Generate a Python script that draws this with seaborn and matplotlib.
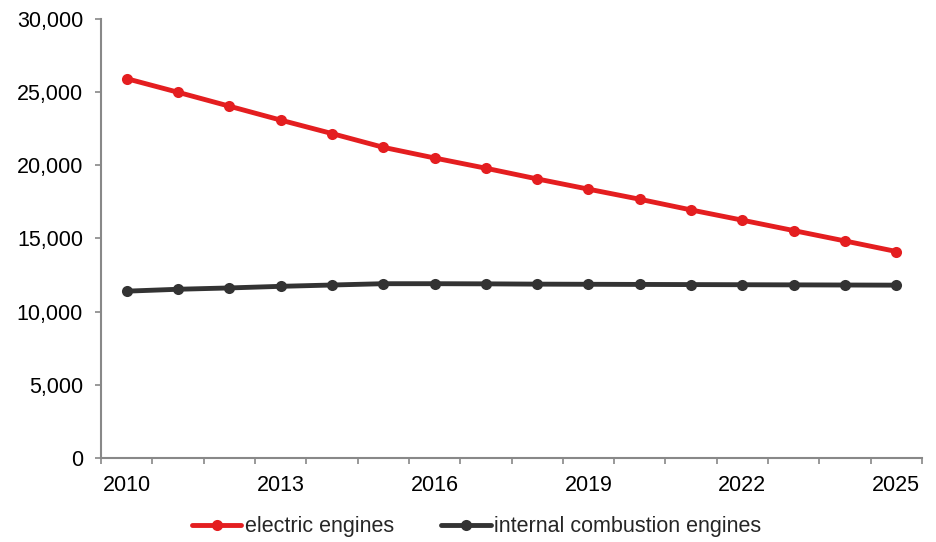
import matplotlib
matplotlib.use("Agg")
import matplotlib.pyplot as plt
from matplotlib.ticker import FuncFormatter, FixedLocator
import seaborn as sns
import pandas as pd

years = list(range(2010, 2026))
electric_engines = [25920, 24990, 24040, 23090, 22170, 21230, 20500, 19800,
                    19070, 18370, 17680, 16950, 16250, 15540, 14830, 14110]
combustion_engines = [11400, 11530, 11620, 11730, 11820, 11910, 11910, 11900,
                      11880, 11870, 11860, 11850, 11840, 11830, 11820, 11810]
series_names = ["electric engines", "internal combustion engines"]
label_years = [2010, 2013, 2016, 2019, 2022, 2025]

df = pd.DataFrame({
    "year": years * 2,
    "value": electric_engines + combustion_engines,
    "series": [series_names[0]] * len(years) + [series_names[1]] * len(years),
})

sns.set_style("white")
plt.rcParams["font.family"] = ["Liberation Sans", "DejaVu Sans"]
FS = 15.5
plt.rcParams["font.size"] = FS

fig = plt.figure(figsize=(9.36, 5.42), dpi=100)
ax = fig.add_axes([0.108, 0.155, 0.877, 0.810])

palette = {series_names[0]: "#E41E20", series_names[1]: "#333333"}
sns.lineplot(data=df, x="year", y="value", hue="series", palette=palette,
             marker="o", markersize=8, markeredgewidth=0, linewidth=3.5,
             ax=ax, legend=True)

ax.set_xlim(2009.5, 2025.5)
ax.set_ylim(0, 30000)
ax.set_yticks(range(0, 30001, 5000))
ax.yaxis.set_major_formatter(FuncFormatter(lambda v, p: f"{int(v):,}"))

# category boundaries carry the tick marks, every third year carries a label
ax.xaxis.set_major_locator(FixedLocator([y - 0.5 for y in years] + [years[-1] + 0.5]))
ax.xaxis.set_major_formatter(FuncFormatter(lambda v, p: ""))
ax.xaxis.set_minor_locator(FixedLocator(label_years))
ax.xaxis.set_minor_formatter(FuncFormatter(lambda v, p: f"{int(round(v))}"))
ax.tick_params(axis="x", which="major", bottom=True, length=4, width=1.2,
               color="#888888", direction="out")
ax.tick_params(axis="x", which="minor", bottom=True, length=0, pad=12,
               labelsize=FS, labelcolor="#000000")
ax.tick_params(axis="y", which="major", left=True, length=4, width=1.2,
               color="#888888", direction="out", labelsize=FS,
               labelcolor="#000000", pad=9)

for side in ["top", "right"]:
    ax.spines[side].set_visible(False)
for side in ["left", "bottom"]:
    ax.spines[side].set_color("#888888")
    ax.spines[side].set_linewidth(1.5)

ax.set_xlabel("")
ax.set_ylabel("")

handles, labels = ax.get_legend_handles_labels()
ax.get_legend().remove()
fig.legend(handles, labels, loc="center", bbox_to_anchor=(0.509, 0.028), ncol=2,
           frameon=False, fontsize=FS, handlelength=2.3, handletextpad=0.15,
           columnspacing=2.2)

fig.savefig("out.png", dpi=100, facecolor="white")
